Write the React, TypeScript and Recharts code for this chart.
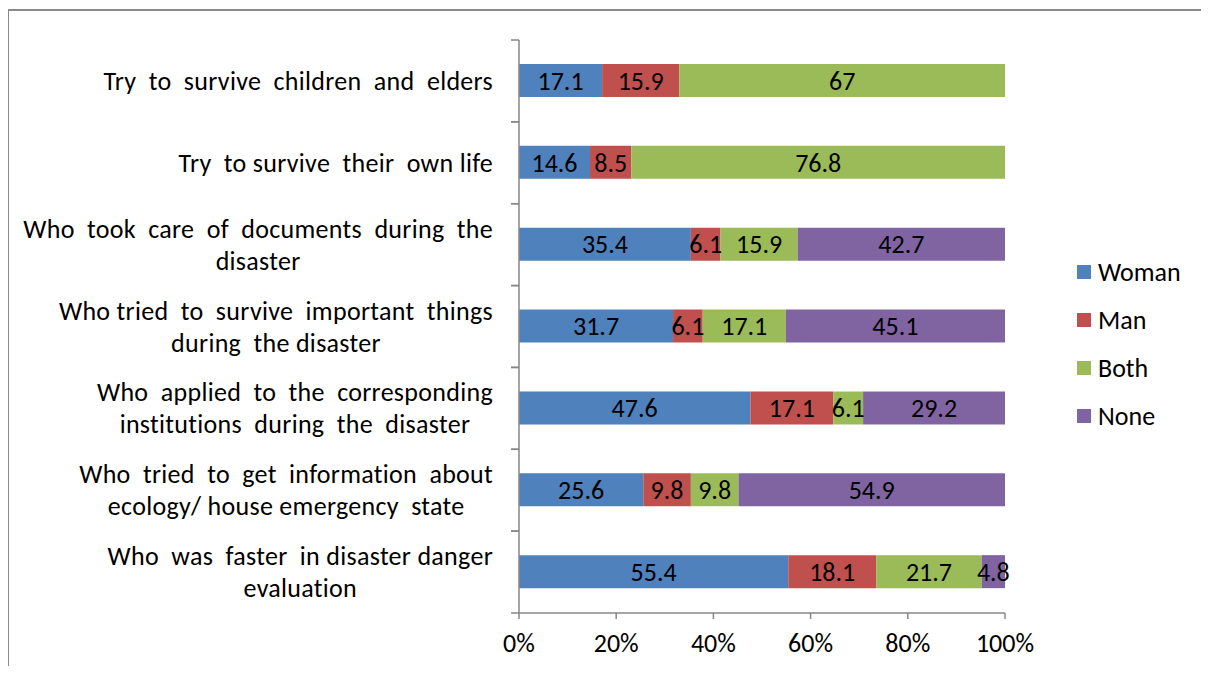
import React from 'react';
import { BarChart, Bar, XAxis, YAxis, LabelList } from 'recharts';

const labelLines: string[][] = [
  ['Try  to  survive  children  and  elders'],
  ['Try  to survive  their  own life'],
  ['Who  took  care  of  documents  during  the', 'disaster'],
  ['Who tried  to  survive  important  things', 'during  the disaster'],
  ['Who  applied  to  the  corresponding', 'institutions  during  the  disaster'],
  ['Who  tried  to  get  information  about', 'ecology/ house emergency  state'],
  ['Who  was  faster  in disaster danger', 'evaluation'],
];
const woman = [17.1, 14.6, 35.4, 31.7, 47.6, 25.6, 55.4];
const man = [15.9, 8.5, 6.1, 6.1, 17.1, 9.8, 18.1];
const both = [67, 76.8, 15.9, 17.1, 6.1, 9.8, 21.7];
const none = [0, 0, 42.7, 45.1, 29.2, 54.9, 4.8];
const xTicks = [0, 0.2, 0.4, 0.6, 0.8, 1];

const series = [
  { key: 'woman', name: 'Woman', color: '#4F81BD' },
  { key: 'man', name: 'Man', color: '#C0504D' },
  { key: 'both', name: 'Both', color: '#9BBB59' },
  { key: 'none', name: 'None', color: '#8064A2' },
];

const data = labelLines.map((lines, i) => ({
  cat: String(i),
  woman: woman[i],
  man: man[i],
  both: both[i],
  none: none[i],
}));

const FONT = 'Carlito, Calibri, Lato, sans-serif';
const FS = 26;
const LS = 0.3; // category labels run a touch wider in the original
const W = 1209;
const H = 674;
const TOP = 40;
const BOTTOM_PLOT = 613;
const AXIS_X = 519;
const PLOT_RIGHT = 1005;
const LABEL_RIGHT = 493;
const AXIS_COLOR = '#878787';

let ctx: CanvasRenderingContext2D | null = null;
function textWidth(s: string): number {
  if (!ctx) ctx = document.createElement('canvas').getContext('2d');
  if (!ctx) return s.length * 11;
  ctx.font = `${FS}px ${FONT}`;
  return ctx.measureText(s).width + s.length * LS;
}

function CategoryTick(props: any) {
  const { y, payload } = props;
  const lines = labelLines[Number(payload.value)];
  const band = (BOTTOM_PLOT - TOP) / labelLines.length;
  const maxW = Math.max(...lines.map(textWidth));
  const cx = LABEL_RIGHT - maxW / 2;
  const lh = 32;
  const startY = y - ((lines.length - 1) * lh) / 2;
  return (
    <g>
      <line x1={AXIS_X - 8} x2={AXIS_X} y1={y - band / 2} y2={y - band / 2} stroke={AXIS_COLOR} strokeWidth={1.5} />
      <line x1={AXIS_X - 8} x2={AXIS_X} y1={y + band / 2} y2={y + band / 2} stroke={AXIS_COLOR} strokeWidth={1.5} />
      {lines.map((ln, i) => (
        <text
          key={i}
          x={cx}
          y={startY + i * lh}
          textAnchor="middle"
          dominantBaseline="central"
          fontSize={FS}
          fontFamily={FONT}
          fill="#000"
          style={{ whiteSpace: 'pre', letterSpacing: LS }}
        >
          {ln}
        </text>
      ))}
    </g>
  );
}

function LegendBox() {
  return (
    <div style={{ fontFamily: FONT, fontSize: FS, lineHeight: 1 }}>
      {series.map((s) => (
        <div key={s.key} style={{ display: 'flex', alignItems: 'center', height: 48 }}>
          <span style={{ width: 14, height: 14, background: s.color, marginRight: 7 }} />
          <span>{s.name}</span>
        </div>
      ))}
    </div>
  );
}

const fmt = (v: any) => (v ? String(v) : '');

export default function App() {
  return (
    <div style={{ position: 'relative', margin: -8, width: W, height: H, overflow: 'hidden', background: '#fff' }}>
      <div style={{ position: 'absolute', left: 7, top: 9, width: W - 7, height: 2, background: '#8a8a8a' }} />
      <div style={{ position: 'absolute', left: 7, top: 9, width: 2, height: H - 9, background: '#8a8a8a' }} />
      <div style={{ position: 'absolute', left: 0, top: 0 }}>
        <BarChart
          width={W}
          height={H}
          data={data}
          layout="vertical"
          stackOffset="expand"
          barSize={33}
          margin={{ top: TOP, right: W - PLOT_RIGHT, left: 0, bottom: 11 }}
        >
          <XAxis
            type="number"
            domain={[0, 1]}
            ticks={xTicks}
            tickFormatter={(v: number) => `${Math.round(v * 100)}%`}
            axisLine={{ stroke: AXIS_COLOR, strokeWidth: 1.5 }}
            tickLine={{ stroke: AXIS_COLOR, strokeWidth: 1.5 }}
            tickSize={6}
            tick={{ fill: '#000', fontSize: FS, fontFamily: FONT }}
            tickMargin={15}
            height={50}
            interval={0}
          />
          <YAxis
            type="category"
            dataKey="cat"
            width={AXIS_X}
            axisLine={{ stroke: AXIS_COLOR, strokeWidth: 1.5 }}
            tickLine={false}
            tick={<CategoryTick />}
            interval={0}
          />
          {series.map((s) => (
            <Bar key={s.key} dataKey={s.key} name={s.name} stackId="a" fill={s.color} isAnimationActive={false}>
              <LabelList
                dataKey={s.key}
                position="center"
                formatter={fmt}
                fill="#000"
                fontSize={FS}
                fontFamily={FONT}
              />
            </Bar>
          ))}
        </BarChart>
      </div>
      <div style={{ position: 'absolute', left: 1077, top: 248 }}>
        <LegendBox />
      </div>
    </div>
  );
}
